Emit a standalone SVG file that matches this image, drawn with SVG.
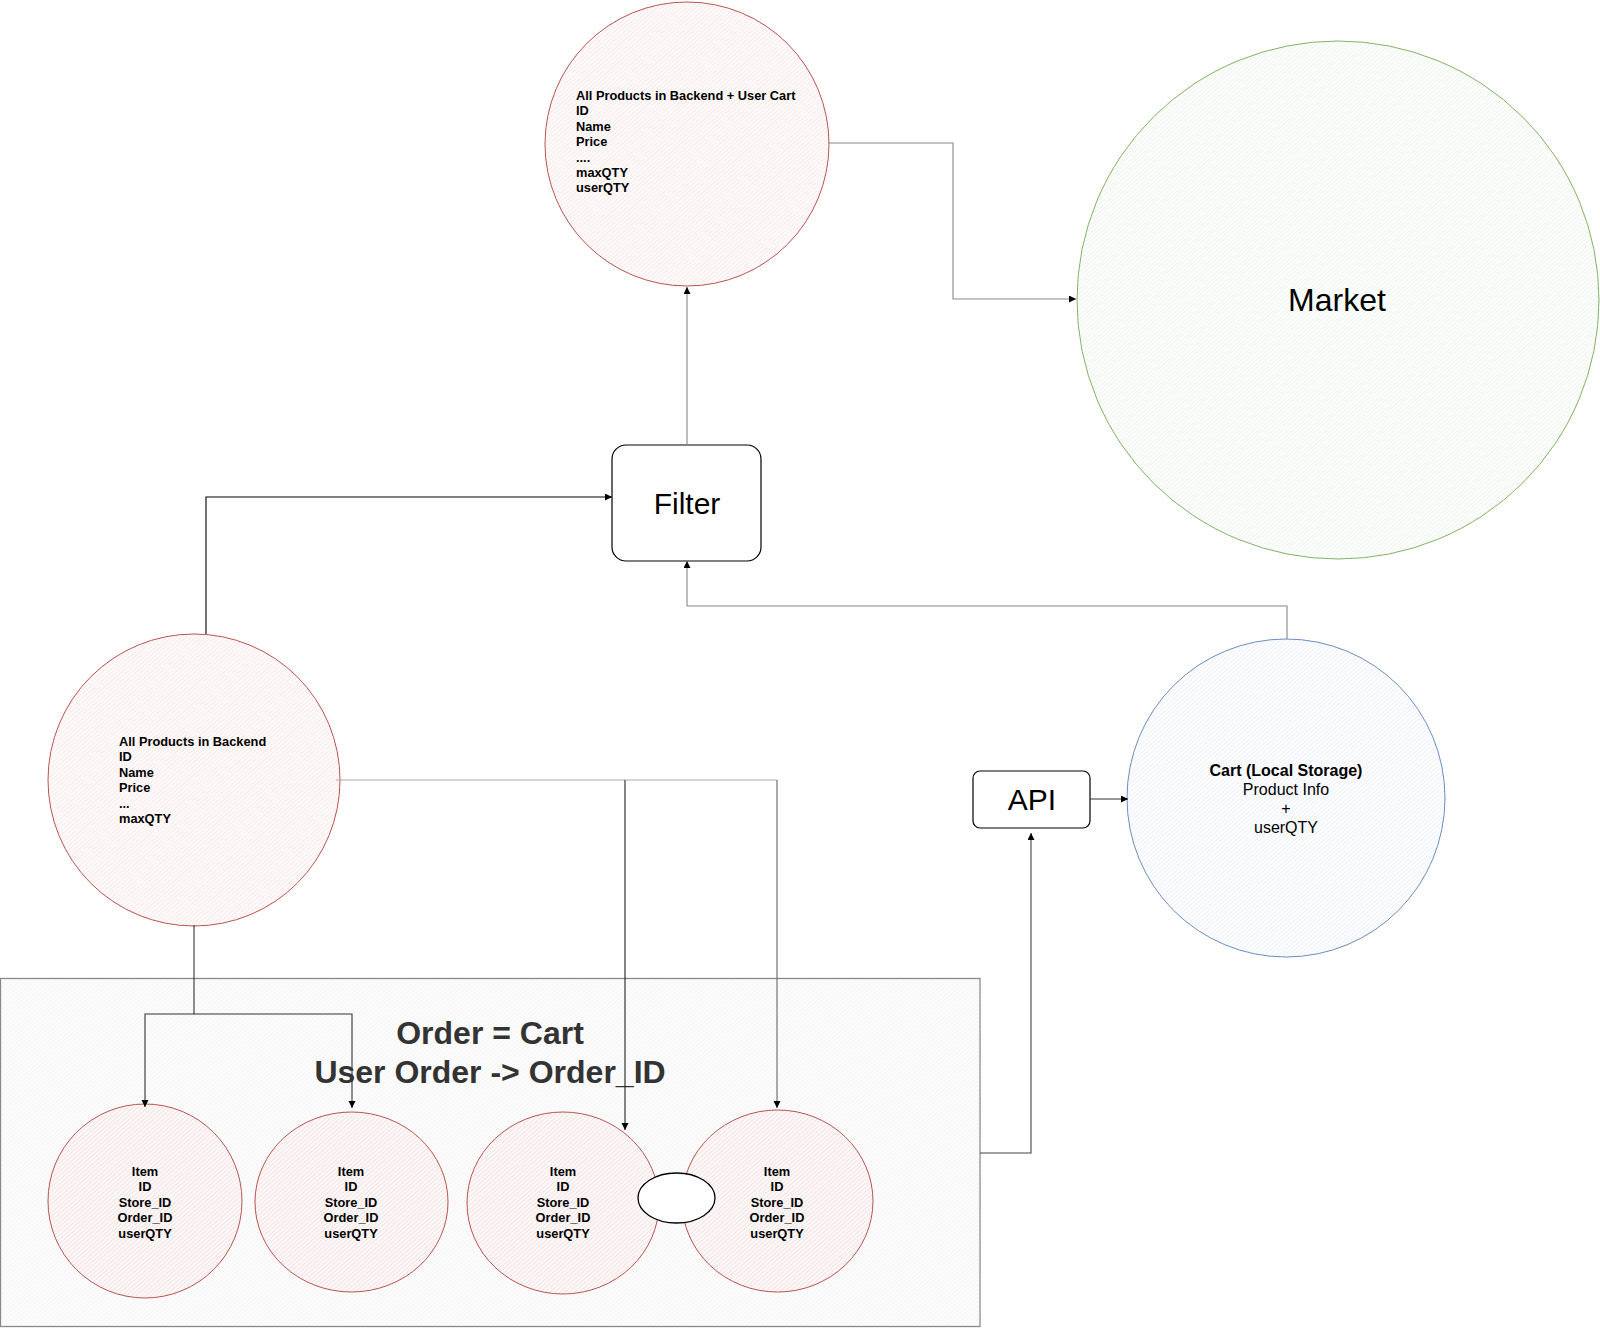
<svg xmlns="http://www.w3.org/2000/svg" width="1600" height="1328" viewBox="0 0 1600 1328">
<defs>
<pattern id="hRed" width="12" height="3.2" patternUnits="userSpaceOnUse" patternTransform="rotate(-41)"><line x1="0" y1="1.6" x2="12" y2="1.6" stroke="#f6d2d0" stroke-width="0.7"/></pattern>
<pattern id="hGreen" width="12" height="3.2" patternUnits="userSpaceOnUse" patternTransform="rotate(-41)"><line x1="0" y1="1.6" x2="12" y2="1.6" stroke="#dcecdb" stroke-width="0.7"/></pattern>
<pattern id="hBlue" width="12" height="3.2" patternUnits="userSpaceOnUse" patternTransform="rotate(-41)"><line x1="0" y1="1.6" x2="12" y2="1.6" stroke="#dbe6f5" stroke-width="0.7"/></pattern>
<pattern id="hGray" width="12" height="3.2" patternUnits="userSpaceOnUse" patternTransform="rotate(-41)"><line x1="0" y1="1.6" x2="12" y2="1.6" stroke="#f1f1f1" stroke-width="0.7"/></pattern>
<marker id="arr" markerWidth="8" markerHeight="8" refX="7" refY="3.5" orient="auto" markerUnits="userSpaceOnUse"><path d="M0,0 L7,3.5 L0,7 z" fill="#000"/></marker>
</defs>
<style>
.red{fill:url(#hRed);stroke:#b85450;stroke-width:1}
.green{fill:url(#hGreen);stroke:#82b366;stroke-width:1}
.blue{fill:url(#hBlue);stroke:#6c8ebf;stroke-width:1}
.box{fill:#fff;stroke:#000;stroke-width:1.2}
.t{font-family:"Liberation Sans",Arial,sans-serif;fill:#000}
.b{font-weight:bold;font-size:12.8px}
.c{text-anchor:middle}
.e{fill:none;stroke-width:1.1}
</style>
<rect width="1600" height="1328" fill="#fff"/>

<g id="order-group">
<rect x="0.5" y="978.5" width="979.5" height="348" fill="#fcfcfc" stroke="#888" stroke-width="1.3"/>
<rect x="1" y="979" width="978.5" height="347" fill="url(#hGray)"/>
<text class="t c" x="490" y="1044" font-size="32" font-weight="bold" style="fill:#333">Order = Cart</text>
<text class="t c" x="490" y="1083" font-size="32" font-weight="bold" style="fill:#333">User Order -&gt; Order_ID</text>
</g>

<g id="top-circle">
<circle class="red" cx="687" cy="144" r="142"/>
<text class="t b" x="576" y="100">All Products in Backend + User Cart</text>
<text class="t b" x="576" y="115.4">ID</text>
<text class="t b" x="576" y="130.8">Name</text>
<text class="t b" x="576" y="146.2">Price</text>
<text class="t b" x="576" y="161.6">....</text>
<text class="t b" x="576" y="177">maxQTY</text>
<text class="t b" x="576" y="192.4">userQTY</text>
</g>

<g id="market">
<ellipse class="green" cx="1338" cy="300" rx="261" ry="259"/>
<text class="t c" x="1337" y="311" font-size="32">Market</text>
</g>

<g id="filter">
<rect class="box" x="612" y="445" width="149" height="116" rx="14"/>
<text class="t c" x="687" y="514" font-size="30">Filter</text>
</g>

<g id="backend-circle">
<circle class="red" cx="194" cy="780" r="146"/>
<text class="t b" x="119" y="746">All Products in Backend</text>
<text class="t b" x="119" y="761.4">ID</text>
<text class="t b" x="119" y="776.8">Name</text>
<text class="t b" x="119" y="792.2">Price</text>
<text class="t b" x="119" y="807.6">...</text>
<text class="t b" x="119" y="823">maxQTY</text>
</g>

<g id="cart">
<circle class="blue" cx="1286" cy="798" r="159"/>
<text class="t c" x="1286" y="776" font-size="16" font-weight="bold">Cart (Local Storage)</text>
<text class="t c" x="1286" y="795" font-size="16">Product Info</text>
<text class="t c" x="1286" y="814" font-size="16">+</text>
<text class="t c" x="1286" y="833" font-size="16">userQTY</text>
</g>

<g id="api">
<rect class="box" x="973" y="771" width="117" height="57" rx="7"/>
<text class="t c" x="1032" y="810" font-size="30">API</text>
</g>

<g id="item1">
<ellipse class="red" cx="145" cy="1201" rx="97" ry="97"/>
<text class="t b c" x="145" y="1176">Item</text>
<text class="t b c" x="145" y="1191.4">ID</text>
<text class="t b c" x="145" y="1206.8">Store_ID</text>
<text class="t b c" x="145" y="1222.2">Order_ID</text>
<text class="t b c" x="145" y="1237.6">userQTY</text>
</g>
<g id="item2">
<ellipse class="red" cx="351.5" cy="1202" rx="96.5" ry="90"/>
<text class="t b c" x="351" y="1176">Item</text>
<text class="t b c" x="351" y="1191.4">ID</text>
<text class="t b c" x="351" y="1206.8">Store_ID</text>
<text class="t b c" x="351" y="1222.2">Order_ID</text>
<text class="t b c" x="351" y="1237.6">userQTY</text>
</g>
<g id="item3">
<ellipse class="red" cx="563" cy="1203" rx="96" ry="91"/>
<text class="t b c" x="563" y="1176">Item</text>
<text class="t b c" x="563" y="1191.4">ID</text>
<text class="t b c" x="563" y="1206.8">Store_ID</text>
<text class="t b c" x="563" y="1222.2">Order_ID</text>
<text class="t b c" x="563" y="1237.6">userQTY</text>
</g>
<g id="item4">
<ellipse class="red" cx="777.5" cy="1201" rx="95.5" ry="91"/>
<text class="t b c" x="777" y="1176">Item</text>
<text class="t b c" x="777" y="1191.4">ID</text>
<text class="t b c" x="777" y="1206.8">Store_ID</text>
<text class="t b c" x="777" y="1222.2">Order_ID</text>
<text class="t b c" x="777" y="1237.6">userQTY</text>
</g>
<g id="link-ellipse">
<ellipse cx="676.5" cy="1198" rx="38.5" ry="25" fill="#fff" stroke="#000" stroke-width="1.3"/>
</g>

<g id="connectors">
<path class="e" stroke="#888" d="M828,143 H953 V299 H1076" marker-end="url(#arr)"/>
<path class="e" stroke="#888" d="M687,445 V287" marker-end="url(#arr)"/>
<path class="e" stroke="#000" d="M206,634 V497 H612" marker-end="url(#arr)"/>
<path class="e" stroke="#888" d="M1287,639 V606 H687 V561" marker-end="url(#arr)"/>
<path class="e" stroke="#333" d="M194,925 V1014 H145 V1107" marker-end="url(#arr)"/>
<path class="e" stroke="#333" d="M194,1014 H352 V1108" marker-end="url(#arr)"/>
<path class="e" stroke="#aaa" d="M336,780 H625"/>
<path class="e" stroke="#222" d="M625,780 V1130" marker-end="url(#arr)"/>
<path class="e" stroke="#aaa" d="M625,780 H777"/>
<path class="e" stroke="#666" d="M777,780 V1108" marker-end="url(#arr)"/>
<path class="e" stroke="#333" d="M1090,799 H1128" marker-end="url(#arr)"/>
<path class="e" stroke="#444" d="M980,1153 H1031 V833" marker-end="url(#arr)"/>
</g>
</svg>
